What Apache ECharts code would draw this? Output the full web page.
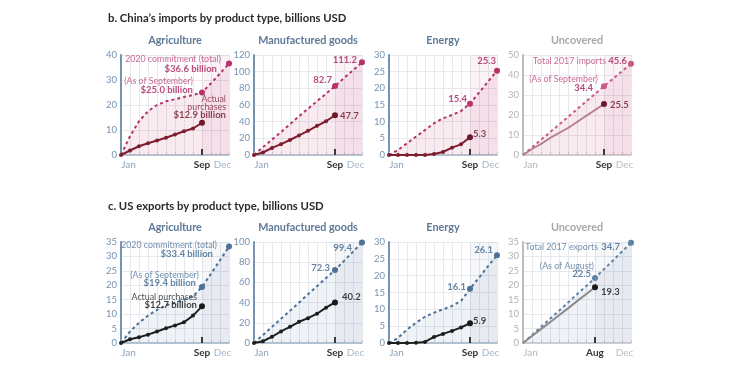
<!DOCTYPE html>
<html><head><meta charset="utf-8">
<script src="https://cdn.jsdelivr.net/npm/echarts@6/dist/echarts.min.js"></script>
<style>html,body{margin:0;padding:0;background:#fff}#c{width:746px;height:392px}</style>
</head><body><div id="c"></div>
<script>
// ---------- DATA ----------
const sectionTitles = ["b. China\u2019s imports by product type, billions USD", "c. US exports by product type, billions USD"];
const panelTitles = ["Agriculture", "Manufactured goods", "Energy", "Uncovered"];
const monthLabels = { 1: "Jan", 8: "Aug", 9: "Sep", 12: "Dec" };

// China's imports (cumulative; index 0 = start of year, 1..12 = end of Jan..Dec)
const cnAgCommit  = [0, 7.5, 13.5, 17.5, 20, 21.5, 22.3, 23.2, 24, 25.0, 28.7, 32.6, 36.6];
const cnAgActual  = [0, 1.8, 3.5, 4.7, 5.8, 6.9, 8.2, 9.5, 10.6, 12.9];
const cnMfgCommit = [0, 9.5, 18.5, 27.5, 37, 46.5, 55.5, 64.5, 73.5, 82.7, 92.2, 101.7, 111.2];
const cnMfgActual = [0, 3, 8.5, 13, 18, 23.5, 29, 35, 40.5, 47.7];
const cnEnCommit  = [0, 1.5, 3.5, 5.5, 7.5, 9.5, 11, 12, 13.2, 15.4, 18.7, 22, 25.3];
const cnEnActual  = [0, 0, 0, 0, 0, 0.3, 0.9, 2.2, 3.2, 5.3];
const cnUnTotal   = [0, 3.8, 7.6, 11.4, 15.2, 19, 22.9, 26.7, 30.5, 34.4, 38.1, 41.9, 45.6];
const cnUnActual  = [0, 3, 5.5, 8.5, 11, 13.5, 16.5, 19.5, 22.5, 25.5];

// US exports
const usAgCommit  = [0, 4, 7, 9.5, 11.5, 13, 14, 15, 16.2, 19.4, 24, 28.7, 33.4];
const usAgActual  = [0, 1.3, 2, 2.9, 4, 5.1, 6.1, 7.2, 9.5, 12.7];
const usMfgCommit = [0, 8, 16, 24, 32, 40, 48.2, 56.3, 64.3, 72.3, 81.3, 90.4, 99.4];
const usMfgActual = [0, 1.8, 6.2, 11.5, 16, 21, 24.6, 29, 35, 40.2];
const usEnCommit  = [0, 1.5, 4, 6, 7.8, 9, 10, 11, 12.5, 16.1, 19.4, 22.8, 26.1];
const usEnActual  = [0, 0, 0, 0.1, 0.3, 1.8, 2.7, 3.6, 4.6, 5.9];
const usUnTotal   = [0, 2.8, 5.6, 8.4, 11.2, 14, 16.9, 19.7, 22.5, 25.6, 28.6, 31.7, 34.7];
const usUnActual  = [0, 2.4, 4.8, 7.2, 9.6, 12, 14.5, 16.9, 19.3];

const yMax  = [40, 120, 30, 50, 35, 100, 30, 35];
const yStep = [10, 20, 5, 10, 5, 20, 5, 5];

// annotation texts per panel
const annotTexts = [
  ["2020 commitment (total)", "$36.6 billion", "(As of September)", "$25.0 billion", "Actual", "purchases", "$12.9 billion"],
  ["111.2", "82.7", "47.7"],
  ["25.3", "15.4", "5.3"],
  ["Total 2017 imports", "45.6", "(As of September)", "34.4", "25.5"],
  ["2020 commitment (total)", "$33.4 billion", "(As of September)", "$19.4 billion", "Actual purchases", "$12.7 billion"],
  ["99.4", "72.3", "40.2"],
  ["26.1", "16.1", "5.9"],
  ["Total 2017 exports", "34.7", "(As of August)", "22.5", "19.3"]
];

const commits = [cnAgCommit, cnMfgCommit, cnEnCommit, cnUnTotal, usAgCommit, usMfgCommit, usEnCommit, usUnTotal];
const actuals = [cnAgActual, cnMfgActual, cnEnActual, cnUnActual, usAgActual, usMfgActual, usEnActual, usUnActual];

// ---------- LAYOUT / STYLE ----------
const FONT = "Lato, 'Open Sans', sans-serif";
const gridLeft = [121, 254, 389, 523];
const gridTop = [55, 242];
const gridH = [100, 101];
const gridW = 108;

// annotation placement: [anchor, kind, side, dx, dy]  (side 'r' = text ends at dx, 'l' = text starts at dx)
const annotLayout = [
  [['end','n','r',-8,-4.5],['end','b','r',-12,5.5],['asof','n','r',-9,-11.5],['asof','b','r',-9,-2.5],['act','an','r',24,-23.5],['act','an','r',24,-16],['act','ab','r',24,-8]],
  [['end','b','r',-5,-2],['asof','b','r',-3,-6],['act','ab','l',5,1]],
  [['end','b','r',-1,-10],['asof','b','r',-3,-5],['act','ab','l',3,-3]],
  [['end','n','r',-25,-3],['end','b','r',-4,-3],['asof','n','r',-6,-7],['asof','b','r',-11,2],['act','ab','l',6,1]],
  [['end','n','r',-12,-1],['end','b','r',-16,7],['asof','n','r',-3,-12],['asof','b','r',-6,-4],['act','an','r',-5,-9],['act','ab','r',-5,-1.3]],
  [['end','b','r',-10,5.4],['asof','b','r',-5,-2],['act','ab','l',7,-5.4]],
  [['end','b','r',-4,-5],['asof','b','r',-4,-2],['act','ab','l',3,-2]],
  [['end','n','r',-33,4],['end','b','r',-11,4],['asof','n','r',-1,-12],['asof','b','r',-4,-4],['act','ab','l',6,5]]
];

const chart = echarts.init(document.getElementById('c'), null, { renderer: 'canvas' });
const grids = [], xAxes = [], yAxes = [], series = [], graphics = [];

for (let p = 0; p < 8; p++) {
  const row = p < 4 ? 0 : 1, col = p % 4;
  const unc = col === 3;
  const asOf = (p === 7) ? 8 : 9;
  const china = row === 0;

  const axisCol = unc ? '#bdbdbd' : '#7593b2';
  const labCol = unc ? '#b3b3b3' : '#7593b2';
  const dashCol = china ? (unc ? '#c85a86' : '#b8326a') : (unc ? '#5e82a6' : '#4d7198');
  const solidCol = china ? (unc ? '#b57d8f' : '#7d1d2e') : (unc ? '#8a8a8a' : '#1e1e1e');
  const lastDotCol = china ? '#6b1a2c' : '#1a1a1a';
  const areaCol = china ? 'rgba(190,45,100,0.14)' : 'rgba(70,105,145,0.12)';
  const afterCol = china ? 'rgba(190,45,100,0.06)' : 'rgba(70,105,145,0.05)';
  const kindStyle = {
    n:  { color: china ? '#bf447a' : '#4f7399', fontSize: 8.8, fontWeight: 'normal' },
    b:  { color: china ? '#a81c57' : '#3d6690', fontSize: 9.5, fontWeight: 'bold' },
    an: { color: china ? '#7d1d2e' : '#222222', fontSize: 8.8, fontWeight: 'normal' },
    ab: { color: china ? '#6b1525' : '#111111', fontSize: 9.5, fontWeight: 'bold' }
  };

  grids.push({ left: gridLeft[col], top: gridTop[row], width: gridW, height: gridH[row], containLabel: false });

  xAxes.push({
    gridIndex: p, type: 'value', min: 0, max: 12, interval: 1,
    axisLine: { show: true, lineStyle: { color: unc ? '#c6c6c6' : '#a3b6c9', width: 1.5 } },
    axisTick: { show: true, inside: true, length: 3, lineStyle: { color: '#c3ccd6' } },
    splitLine: { show: true, lineStyle: { color: '#e6e9ee', width: 1 } },
    axisLabel: {
      margin: 5, fontFamily: FONT, fontSize: 10,
      formatter: function (v) {
        if (v === 1) return '{j|Jan}';
        if (v === asOf) return '{s|' + monthLabels[asOf] + '}';
        if (v === 12) return '{d|Dec}';
        return '';
      },
      rich: {
        j: { color: unc ? '#b8b8b8' : '#8ea4bb', fontFamily: FONT, fontSize: 10, padding: [0, 3, 0, 0] },
        s: { color: '#333', fontWeight: 'bold', fontFamily: FONT, fontSize: 10 },
        d: { color: unc ? '#bdbdbd' : '#a7b8ca', fontFamily: FONT, fontSize: 10, padding: [0, 13, 0, 0] }
      }
    }
  });

  yAxes.push({
    gridIndex: p, type: 'value', min: 0, max: yMax[p], interval: yStep[p],
    axisLine: { show: true, lineStyle: { color: axisCol, width: 2 } },
    axisTick: { show: false },
    splitLine: { show: true, lineStyle: { color: '#e6e9ee', width: 1 } },
    axisLabel: { color: labCol, fontFamily: FONT, fontSize: 9.5, margin: 4 }
  });

  const c = commits[p];
  series.push({
    type: 'line', xAxisIndex: p, yAxisIndex: p,
    data: c.map((v, i) => ({ value: [i, v], symbolSize: (i === asOf || i === 12) ? 6 : 0 })),
    symbol: 'circle', showSymbol: true, z: 3,
    lineStyle: { color: dashCol, width: 2, type: [3, 3] },
    itemStyle: { color: dashCol },
    areaStyle: { color: areaCol },
    markArea: { silent: true, itemStyle: { color: afterCol }, data: [[{ xAxis: asOf }, { xAxis: 12 }]] },
    animation: false
  });

  const a = actuals[p];
  const last = a.length - 1;
  series.push({
    type: 'line', xAxisIndex: p, yAxisIndex: p,
    data: a.map((v, i) => {
      const item = { value: [i, v], symbolSize: i === last ? 6 : (unc ? 0 : 4) };
      if (i === last) item.itemStyle = { color: lastDotCol };
      return item;
    }),
    symbol: 'circle', showSymbol: true, z: 4,
    lineStyle: { color: solidCol, width: 2 },
    itemStyle: { color: solidCol },
    markLine: {
      silent: true, symbol: 'none', label: { show: false },
      lineStyle: { color: '#3a3a3a', width: 2, type: 'solid' },
      data: [[{ coord: [asOf, 0] }, { coord: [asOf, yMax[p] * 0.06] }]]
    },
    animation: false
  });

  // annotations anchored to the data points
  const anchors = { end: [12, c[12]], asof: [asOf, c[asOf]], act: [last, a[last]] };
  series.push({
    type: 'scatter', xAxisIndex: p, yAxisIndex: p, z: 6, silent: true,
    symbolSize: 0.1, itemStyle: { color: 'rgba(0,0,0,0)' },
    data: annotLayout[p].map((L, k) => {
      const st = kindStyle[L[1]];
      return {
        value: anchors[L[0]],
        label: {
          show: true, position: L[2] === 'r' ? 'left' : 'right', distance: 0,
          offset: [L[3], L[4]], formatter: annotTexts[p][k],
          color: st.color, fontSize: st.fontSize, fontWeight: st.fontWeight, fontFamily: FONT
        }
      };
    }),
    animation: false
  });

  graphics.push({
    type: 'text', x: gridLeft[col] + gridW / 2, y: row === 0 ? 41 : 228,
    style: { text: panelTitles[col], fill: unc ? '#a8a8a8' : '#5d7997', font: 'bold 10.8px ' + FONT, align: 'center', verticalAlign: 'middle' }
  });
}

graphics.push({ type: 'text', x: 108, y: 18, style: { text: sectionTitles[0], fill: '#2a2a2a', font: 'bold 11.3px ' + FONT, align: 'left', verticalAlign: 'middle' } });
graphics.push({ type: 'text', x: 108, y: 206, style: { text: sectionTitles[1], fill: '#2a2a2a', font: 'bold 11.3px ' + FONT, align: 'left', verticalAlign: 'middle' } });

chart.setOption({
  animation: false,
  grid: grids, xAxis: xAxes, yAxis: yAxes, series: series, graphic: graphics
});
</script>
</body></html>
